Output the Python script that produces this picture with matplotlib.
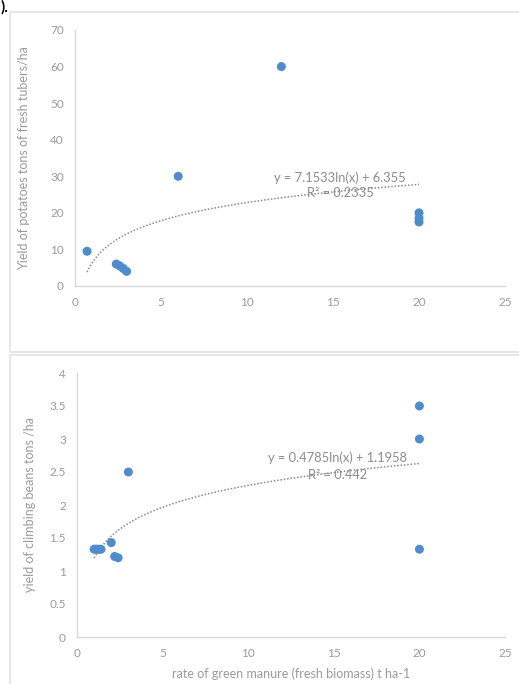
import numpy as np
import matplotlib
matplotlib.use("Agg")
import matplotlib.pyplot as plt
from matplotlib.patches import Rectangle

plt.rcParams['font.family'] = ['Lato', 'DejaVu Sans']

# Top chart: potatoes
pot_x = [0.7, 2.4, 2.6, 2.8, 3.0, 6.0, 12.0, 20.0, 20.0, 20.0]
pot_y = [9.5, 6.0, 5.5, 4.8, 4.0, 30.0, 60.0, 20.0, 18.5, 17.5]
pot_a, pot_b = 7.1533, 6.355
pot_eq = "y = 7.1533ln(x) + 6.355"
pot_r2 = "R² = 0.2335"

# Bottom chart: climbing beans
bean_x = [1.0, 1.1, 1.2, 1.3, 1.4, 2.0, 2.2, 2.4, 3.0, 20.0, 20.0, 20.0]
bean_y = [1.33, 1.33, 1.33, 1.33, 1.33, 1.43, 1.22, 1.2, 2.5, 3.5, 3.0, 1.33]
bean_a, bean_b = 0.4785, 1.1958
bean_eq = "y = 0.4785ln(x) + 1.1958"
bean_r2 = "R² = 0.442"

xticks = [0, 5, 10, 15, 20, 25]
pot_yticks = [0, 10, 20, 30, 40, 50, 60, 70]
bean_yticks = [0, 0.5, 1, 1.5, 2, 2.5, 3, 3.5, 4]
bean_yticklabels = ['0', '0.5', '1', '1.5', '2', '2.5', '3', '3.5', '4']

W, H = 519, 684
fig = plt.figure(figsize=(W/100, H/100), dpi=100)

# chart area borders
for (y0, y1) in [(12, 352), (355, 692)]:
    fig.patches.append(Rectangle((10/W, 1-y1/H), (W-8)/W, (y1-y0)/H,
                                 transform=fig.transFigure, fill=False,
                                 edgecolor='#e4e4e4', lw=1.3))
fig.text(1/W, 1.0, ").", fontsize=11, fontweight='bold', color='black',
         va='top', ha='left')

blue = '#4f8ccb'
tcol = '#9a9a9a'
lcol = '#8c8c8c'
spine_c = '#d9d9d9'

def style(ax):
    for s in ['top', 'right']:
        ax.spines[s].set_visible(False)
    for s in ['left', 'bottom']:
        ax.spines[s].set_color(spine_c)
        ax.spines[s].set_linewidth(1.0)
    ax.tick_params(length=0, colors=tcol, labelsize=8.5, pad=8)
    ax.set_xlim(0, 25)
    ax.set_xticks(xticks)

ax1 = fig.add_axes([75/W, 1-286/H, 430/W, (286-30)/H])
style(ax1)
ax1.set_ylim(0, 70)
ax1.set_yticks(pot_yticks)
ax1.scatter(pot_x, pot_y, s=42, color=blue, zorder=3, edgecolors='none')
xx = np.linspace(min(pot_x), max(pot_x), 200)
ax1.plot(xx, pot_a*np.log(xx)+pot_b, ls=(0, (1, 1.2)), color='#8a8a8a', lw=1.1)
ax1.text(15.4, 29.6, pot_eq, fontsize=9.3, color=lcol, ha='center', va='center')
ax1.text(15.4, 25.4, pot_r2, fontsize=9.3, color=lcol, ha='center', va='center')
ax1.set_ylabel("Yield of potatoes tons of fresh tubers/ha", fontsize=9,
               color=tcol)
ax1.yaxis.set_label_coords(-0.105, 0.5)

ax2 = fig.add_axes([77/W, 1-637/H, 428/W, (637-373)/H])
style(ax2)
ax2.set_ylim(0, 4)
ax2.set_yticks(bean_yticks)
ax2.set_yticklabels(bean_yticklabels)
ax2.scatter(bean_x, bean_y, s=42, color=blue, zorder=3, edgecolors='none')
xx = np.linspace(min(bean_x), max(bean_x), 200)
ax2.plot(xx, bean_a*np.log(xx)+bean_b, ls=(0, (1, 1.2)), color='#8a8a8a', lw=1.1)
ax2.text(15.2, 2.71, bean_eq, fontsize=9.3, color=lcol, ha='center', va='center')
ax2.text(15.2, 2.45, bean_r2, fontsize=9.3, color=lcol, ha='center', va='center')
ax2.set_ylabel("yield of climbing beans tons /ha", fontsize=9, color=tcol)
ax2.yaxis.set_label_coords(-0.095, 0.5)
ax2.set_xlabel("rate of green manure (fresh biomass) t ha-1", fontsize=9,
               color=tcol, labelpad=6)

fig.savefig("out.png", dpi=100)
